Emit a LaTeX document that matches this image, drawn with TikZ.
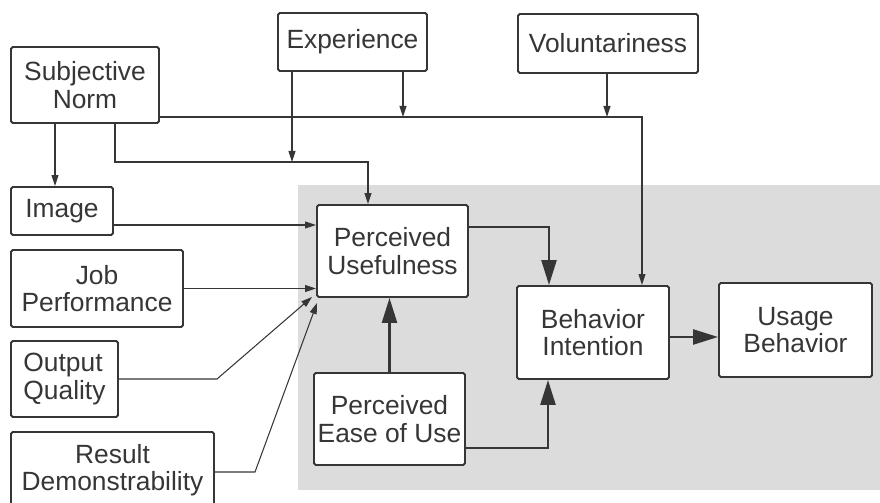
\documentclass[tikz,border=0pt]{standalone}
\usepackage{fontspec}
\setmainfont{Liberation Sans}
\usetikzlibrary{arrows.meta, calc}
\usepackage{xcolor}
\definecolor{linegray}{HTML}{363636}
\definecolor{panelgray}{HTML}{DCDCDC}
\def\pxsize{0.02cm}

\begin{document}
\begin{tikzpicture}[x=\pxsize, y=-\pxsize, draw=linegray, text=linegray,
    font=\fontsize{15}{15.5}\selectfont]
    \tikzstyle{factor}=[draw, line width=1.1pt, rounded corners=1pt, fill=white, align=center, inner sep=0pt]
    \tikzstyle{link}=[line width=0.6pt, -{Triangle[length=0.22cm, width=0.14cm]}]
    \tikzstyle{main link}=[line width=1.4pt, -{Triangle[length=0.5cm, width=0.3cm]}]

    \useasboundingbox (0,0) rectangle (880,503);
    \fill[panelgray] (298,185) rectangle (880,490);

    % outer factors
    \node[factor, minimum width=148*\pxsize, minimum height=76*\pxsize] (SN) at (85,85) {Subjective\\Norm};
    \node[factor, minimum width=149*\pxsize, minimum height=58*\pxsize] (Exp) at (352.5,42) {Experience};
    \node[factor, minimum width=180*\pxsize, minimum height=59*\pxsize] (Vol) at (608,43.5) {Voluntariness};
    \node[factor, minimum width=102*\pxsize, minimum height=48*\pxsize] (Img) at (62,211) {Image};
    \node[factor, minimum width=172*\pxsize, minimum height=77*\pxsize] (JP) at (97,288.5) {Job\\Performance};
    \node[factor, minimum width=107*\pxsize, minimum height=76*\pxsize, align=left] (OQ) at (64.5,379) {Output\\Quality};
    \node[factor, minimum width=203*\pxsize, minimum height=76*\pxsize] (RD) at (112.5,470) {Result\\Demonstrability};

    % core model
    \node[factor, minimum width=151*\pxsize, minimum height=92*\pxsize] (PU) at (392.5,251) {Perceived\\Usefulness};
    \node[factor, minimum width=151*\pxsize, minimum height=92*\pxsize] (PEoU) at (389.5,419) {Perceived\\Ease of Use};
    \node[factor, minimum width=152*\pxsize, minimum height=93*\pxsize] (BI) at (593,332.5) {Behavior\\Intention};
    \node[factor, minimum width=153*\pxsize, minimum height=94*\pxsize] (UB) at (795.5,330) {Usage\\Behavior};

    % bend points
    \coordinate (kImg) at (55,0);
    \coordinate (kSN) at (115,162);
    \coordinate (kExp) at (292,162);
    \coordinate (kPU) at (368,162);
    \coordinate (kExp2) at (403,117);
    \coordinate (kVol) at (607,117);
    \coordinate (kBI) at (642,117);
    \coordinate (hImg) at (0,225);
    \coordinate (kOQ) at (217,379);
    \coordinate (kRD) at (255,472);
    \coordinate (kPB) at (549,227);
    \coordinate (kEB) at (548,448);
    \coordinate (hBU) at (0,337);

    \draw[link] (SN.south -| kImg) -- (Img.north -| kImg);
    \draw[link] (SN.south -| kSN) -- (kSN) -- (kPU) -- (PU.north -| kPU);
    \draw[link] (Exp.south -| kExp) -- (kExp);
    \draw[link] (SN.east |- kBI) -- (kBI) -- (BI.north -| kBI);
    \draw[link] (Exp.south -| kExp2) -- (kExp2);
    \draw[link] (Vol.south -| kVol) -- (kVol);

    \draw[link] (Img.east |- hImg) -- (PU.west |- hImg);
    \draw[link] (JP.east) -- (PU.west |- JP.east);
    \draw[link] (OQ.east |- kOQ) -- (kOQ) -- ($(PU.south west)+(-4,-1)$);
    \draw[link] (RD.east |- kRD) -- (kRD) -- ($(PU.south west)+(1,5)$);

    \draw[main link] (PU.east |- kPB) -- (kPB) -- (BI.north -| kPB);
    \draw[main link] (PEoU.north) -- (PU.south -| PEoU.north);
    \draw[main link] (PEoU.east |- kEB) -- (kEB) -- (BI.south -| kEB);
    \draw[main link] (BI.east |- hBU) -- (UB.west |- hBU);
\end{tikzpicture}
\end{document}
